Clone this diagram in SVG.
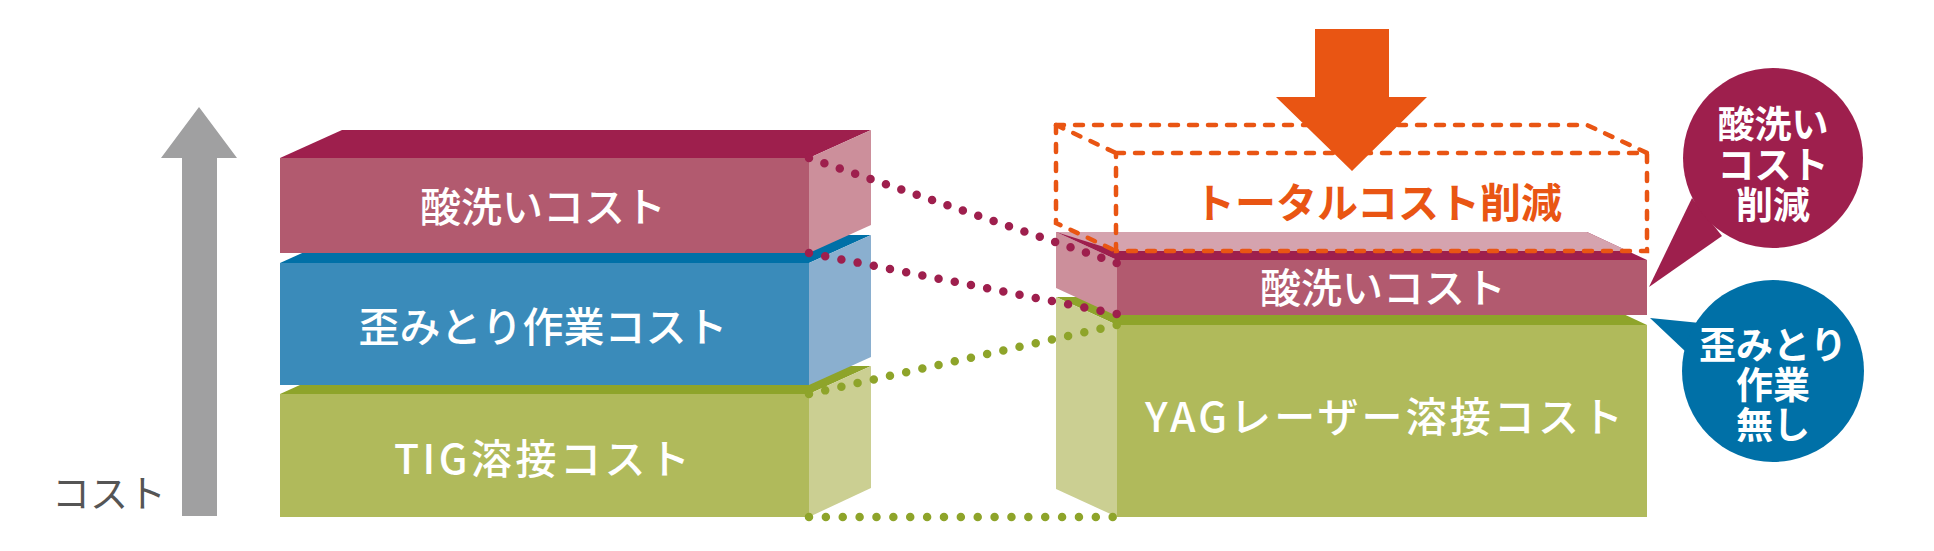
<svg xmlns="http://www.w3.org/2000/svg" width="1934" height="551" viewBox="0 0 1934 551">
<style>
.t{font-family:"Noto Sans CJK JP","Noto Sans CJK SC",sans-serif;fill:#fff;text-anchor:middle}
.bt{font-size:41px;font-weight:500}
.bub{font-size:37px;font-weight:700}
.pf{fill:#B25A6F}.pt{fill:#9E1F4D}.ps{fill:#CC8F9B}.pl{fill:#D5A3AE}
.bf{fill:#3A8BBA}.btp{fill:#0070A7}.bs{fill:#8AAFCF}
.gf{fill:#B0BA5B}.gt{fill:#8EA42A}.gs{fill:#CBCF92}
.dp{fill:none;stroke:#9E1F4D;stroke-width:8.5;stroke-linecap:round;stroke-dasharray:0 0.999}
.dg{fill:none;stroke:#8EA42A;stroke-width:8.5;stroke-linecap:round;stroke-dasharray:0 0.999}
.dash{fill:none;stroke:#E95513;stroke-width:4.5;stroke-linecap:round;stroke-dasharray:8 11}
</style>
<rect width="1934" height="551" fill="#fff"/>

<g id="cost-axis">
<polygon points="182,158 161,158 199,107 237,158 217,158 217,516 182,516" fill="#A0A0A1"/>
<text class="t" x="109" y="507" style="font-size:38px;fill:#555;font-weight:400">コスト</text>
</g>

<g id="left-tig">
<polygon class="gt" points="280,394 342,366 871,366 809,394"/>
<polygon class="gs" points="809,394 871,366 871,488 809,517"/>
<rect class="gf" x="280" y="394" width="529" height="123"/>
<text class="t bt" x="542" y="474" textLength="296" lengthAdjust="spacing">TIG溶接コスト</text>
</g>

<g id="left-distortion">
<polygon class="btp" points="280,263 342,235 871,235 809,263"/>
<polygon class="bs" points="809,263 871,235 871,357 809,385"/>
<rect class="bf" x="280" y="263" width="529" height="122"/>
<text class="t bt" x="543" y="342">歪みとり作業コスト</text>
</g>

<g id="left-pickling">
<polygon class="pt" points="280,158 342,130 871,130 809,158"/>
<polygon class="ps" points="809,158 871,130 871,225 809,253"/>
<rect class="pf" x="280" y="158" width="529" height="95"/>
<text class="t bt" x="543" y="222">酸洗いコスト</text>
</g>

<g id="right-yag">
<polygon class="gt" points="1056,297 1587,297 1647,325 1117,325"/>
<polygon class="gs" points="1056,297 1117,325 1117,517 1056,489"/>
<rect class="gf" x="1117" y="325" width="530" height="192"/>
<text class="t bt" x="1384" y="432" textLength="478" lengthAdjust="spacing">YAGレーザー溶接コスト</text>
</g>

<g id="right-pickling">
<polygon class="ps" points="1056,232 1117,260 1117,316 1056,288"/>
<polygon class="pt" points="1056,232 1587,232 1647,260 1117,260"/>
<polygon class="pl" points="1056,232 1587,232 1628,251 1117,251"/>
<rect class="pf" x="1117" y="260" width="530" height="55"/>
<text class="t bt" x="1383" y="303">酸洗いコスト</text>
</g>

<g id="total-reduction">
<path class="dash" d="M1056,125 H1587 L1647,153"/>
<path class="dash" d="M1056,125 V223 L1116,251"/>
<path class="dash" d="M1056,125 L1116,153"/>
<path class="dash" d="M1116,153 H1647 V251 H1116 Z"/>
<polygon points="1315,29 1389,29 1389,97 1427,97 1352,171 1276,97 1315,97" fill="#E95513"/>
<text class="t" x="1378" y="218" style="font-size:41px;font-weight:700;fill:#E95513">トータルコスト削減</text>
</g>

<g id="bubble-pickling">
<polygon points="1692,198 1649,287 1722,236" fill="#9E1F4D"/>
<circle cx="1773" cy="158" r="90" fill="#9E1F4D"/>
<text class="t bub" x="1773" y="138">酸洗い</text>
<text class="t bub" x="1773" y="179">コスト</text>
<text class="t bub" x="1773" y="219">削減</text>
</g>

<g id="bubble-distortion">
<polygon points="1650,318 1700,323 1686,352" fill="#0070A7"/>
<circle cx="1773" cy="371" r="91" fill="#0070A7"/>
<text class="t bub" x="1773" y="359">歪みとり</text>
<text class="t bub" x="1773" y="399">作業</text>
<text class="t bub" x="1773" y="439">無し</text>
</g>

<g id="connectors">
<path class="dp" d="M809,158 L1117,263" pathLength="20"/>
<path class="dp" d="M809,253 L1117,314" pathLength="19"/>
<path class="dg" d="M809,394 L1117,325" pathLength="19"/>
<path class="dg" d="M809,517 L1113,517" pathLength="18"/>
</g>
</svg>
